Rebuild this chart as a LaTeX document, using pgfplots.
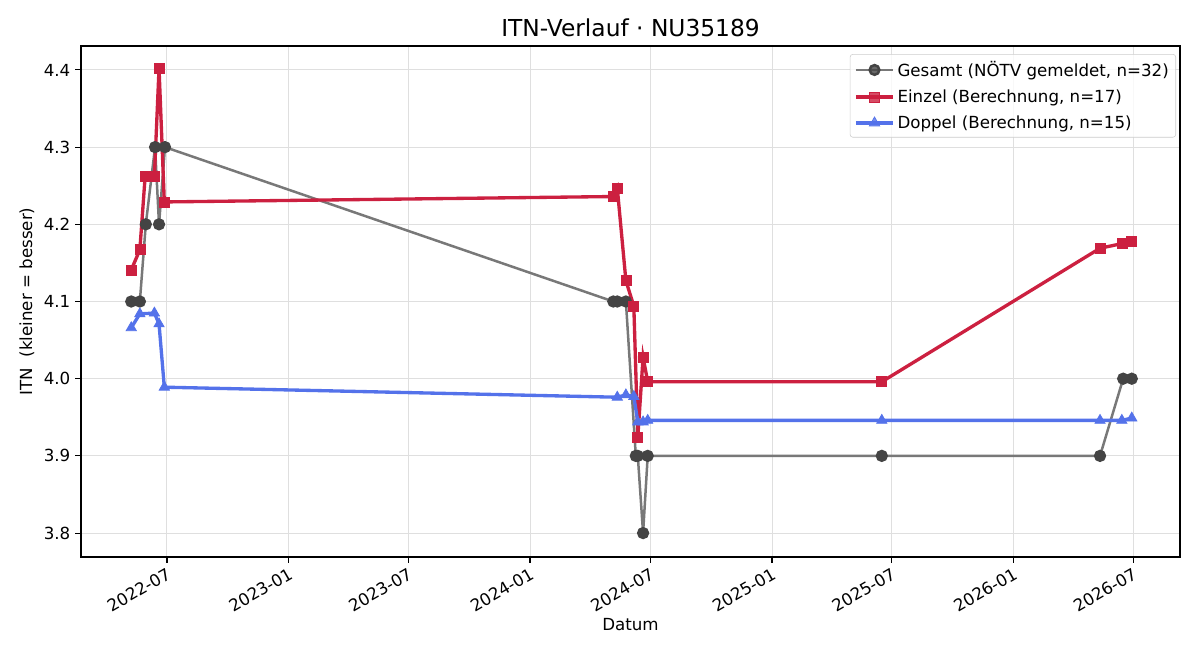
\documentclass[border=0pt]{standalone}
\usepackage{fontspec}
\setmainfont{DejaVu Sans}
\usepackage{pgfplots}
\pgfplotsset{compat=1.18}
\definecolor{gline}{RGB}{120,120,120}
\definecolor{gmark}{RGB}{68,68,68}
\definecolor{rline}{RGB}{204,32,64}
\definecolor{bline}{RGB}{84,114,234}
\begin{document}
\begin{tikzpicture}
\begin{axis}[
  at={(0,0)}, anchor=south west,
  scale only axis, width=791.3pt, height=367.9pt,
  xmin=51, xmax=1713, ymin=3.769, ymax=4.431,
  xtick={181,365,546,730,912,1096,1277,1461,1642},
  xticklabels={2022-07,2023-01,2023-07,2024-01,2024-07,2025-01,2025-07,2026-01,2026-07},
  xticklabel style={rotate=30, anchor=north east, font=\fontsize{12}{14}\selectfont, inner sep=2pt},
  ytick={3.8,3.9,4.0,4.1,4.2,4.3,4.4},
  yticklabel style={/pgf/number format/fixed, /pgf/number format/fixed zerofill, /pgf/number format/precision=1, font=\fontsize{12}{14}\selectfont},
  /pgf/number format/assume math mode=true,
  grid=major, major grid style={gray!25, line width=0.7pt},
  tick style={black, line width=0.8pt}, tick align=outside,
  major tick length=4.2pt,
  axis line style={line width=0.9pt},
  xtick pos=bottom, ytick pos=left,
  title={ITN-Verlauf · NU35189},
  title style={font=\fontsize{16.8}{19}\selectfont, yshift=-3pt},
  xlabel={Datum}, ylabel={ITN\ \ (kleiner = besser)},
  xlabel style={font=\fontsize{12}{14}\selectfont, yshift=2pt},
  ylabel style={font=\fontsize{12}{14}\selectfont},
  legend style={at={(1,1)}, anchor=north east, xshift=-2.9pt, yshift=-5.8pt,
    font=\fontsize{12}{16}\selectfont, draw=gray!40, rounded corners=2pt, fill=white, fill opacity=0.8, text opacity=1, inner sep=3pt, row sep=4pt},
  legend cell align=left,
  legend image code/.code={\draw[mark repeat=2,mark phase=2,#1] plot coordinates {(0cm,0cm) (0.47cm,0cm) (0.94cm,0cm)};},
]
\addplot[gline, line width=1.8pt, mark=*, mark size=3.5pt, mark options={fill=gmark, draw=gmark}] coordinates {
(127,4.1)(140,4.1)(149,4.2)(163,4.3)(169,4.2)(178,4.3)(856,4.1)(862,4.1)(875,4.1)(890,3.9)(893,3.9)(901,3.8)(908,3.9)(1262,3.9)(1592,3.9)(1627,4.0)(1640,4.0)};
\addlegendentry{Gesamt (NÖTV gemeldet, n=32)}
\addplot[rline, line width=2.4pt, mark=square*, mark size=3.6pt, mark options={fill=rline, draw=rline, line width=0.5pt}] coordinates {
(127,4.141)(140,4.167)(148,4.262)(162,4.262)(169,4.402)(177,4.229)(856,4.236)(862,4.247)(875,4.127)(887,4.094)(893,3.924)(901,4.028)(908,3.996)(1262,3.996)(1592,4.169)(1625,4.175)(1640,4.178)};
\addlegendentry{Einzel (Berechnung, n=17)}
\addplot[bline, line width=2.4pt, mark=triangle*, mark size=4.3pt, mark options={fill=bline, draw=bline, line width=0.5pt}] coordinates {
(127,4.066)(140,4.084)(162,4.085)(169,4.071)(177,3.989)(862,3.976)(875,3.979)(887,3.977)(893,3.944)(901,3.944)(908,3.946)(1262,3.946)(1592,3.946)(1625,3.946)(1640,3.949)};
\addlegendentry{Doppel (Berechnung, n=15)}
\end{axis}
\pgfresetboundingbox
\useasboundingbox (-58.32pt,-74.16pt) rectangle (805.68pt,401.04pt);
\end{tikzpicture}
\end{document}
